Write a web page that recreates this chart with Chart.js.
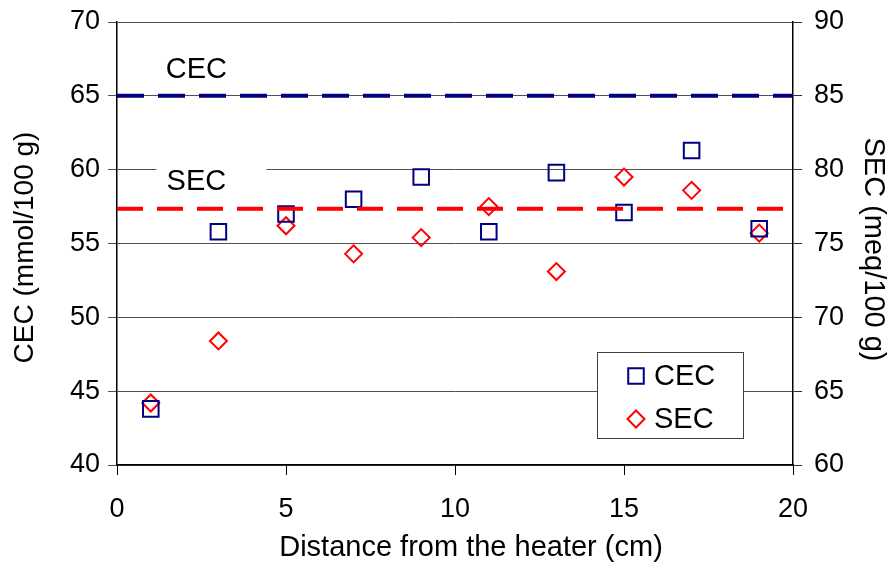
<!DOCTYPE html>
<html>
<head>
<meta charset="utf-8">
<title>CEC and SEC vs distance from the heater</title>
<script src="https://cdn.jsdelivr.net/npm/chart.js"></script>
<style>
  html, body { margin: 0; padding: 0; background: #fff; }
  #wrap { width: 895px; height: 567px; }
</style>
</head>
<body>
<div id="wrap"><canvas id="cecChart" width="895" height="567"></canvas></div>
<script>
// data
const distances = [1, 3, 5, 7, 9, 11, 13, 15, 17, 19];
const cecValues = [43.8, 55.8, 57.0, 58.0, 59.5, 55.8, 59.8, 57.1, 61.3, 56.0];
const secValues = [64.2, 68.4, 76.2, 74.3, 75.4, 77.5, 73.1, 79.5, 78.6, 75.7];
const cecLevel = 65;      // dashed line, left axis
const secLevel = 77.35;   // dashed line, right axis
const xTicks = [0, 5, 10, 15, 20];
const cecTicks = [40, 45, 50, 55, 60, 65, 70];
const secTicks = [60, 65, 70, 75, 80, 85, 90];
const seriesNames = ["CEC", "SEC"];
const xTitle = "Distance from the heater (cm)";
const cecTitle = "CEC (mmol/100 g)";
const secTitle = "SEC (meq/100 g)";

const FONT = '"Liberation Sans", Arial, sans-serif';
const NAVY = "#000080";
const RED = "#ff0000";

Chart.defaults.color = "#000";
Chart.defaults.font.family = FONT;

function setTicks(list) {
  return scale => { scale.ticks = list.map(v => ({ value: v })); };
}

// captions over the dashed lines, axis titles and the boxed legend
const overlay = {
  id: "overlay",
  beforeDatasetsDraw(chart) {
    const { ctx, scales } = chart;
    const cx = scales.x.getPixelForValue(2.35);
    ctx.save();
    ctx.font = "29px " + FONT;
    ctx.textAlign = "center";
    ctx.textBaseline = "middle";
    const captions = [
      [seriesNames[0], scales.y.getPixelForValue(cecLevel) - 27],
      [seriesNames[1], scales.y2.getPixelForValue(secLevel) - 28]
    ];
    captions.forEach(([txt, cy]) => {
      ctx.fillStyle = "#fff";
      ctx.fillRect(cx - 40, cy - 14, 110, 28);
      ctx.fillStyle = "#000";
      ctx.fillText(txt, cx, cy + 1);
    });
    ctx.restore();
  },
  afterDraw(chart) {
    const { ctx, chartArea } = chart;
    const midY = (chartArea.top + chartArea.bottom) / 2;
    ctx.save();
    ctx.fillStyle = "#000";
    ctx.textAlign = "center";
    ctx.textBaseline = "middle";
    // axis titles
    ctx.font = "29px " + FONT;
    ctx.fillText(xTitle, (chartArea.left + chartArea.right) / 2 + 16, 548);
    ctx.save();
    ctx.translate(25, midY + 4);
    ctx.rotate(-Math.PI / 2);
    ctx.font = "28px " + FONT;
    ctx.fillText(cecTitle, 0, 0);
    ctx.restore();
    ctx.save();
    ctx.translate(873, midY + 6);
    ctx.rotate(Math.PI / 2);
    ctx.font = "29px " + FONT;
    ctx.fillText(secTitle, 0, 0);
    ctx.restore();

    // legend
    const left = chartArea.right - 196, top = chartArea.top + 330;
    const w = 146, h = 86;
    ctx.fillStyle = "#fff";
    ctx.fillRect(left, top, w, h);
    ctx.strokeStyle = "#404040";
    ctx.lineWidth = 1;
    ctx.strokeRect(left + 0.5, top + 0.5, w, h);
    ctx.font = "29px " + FONT;
    ctx.textAlign = "left";
    [0, 1].forEach(i => {
      const ds = chart.data.datasets[i];
      const my = top + 24 + i * 43;
      ctx.strokeStyle = ds.borderColor;
      ctx.fillStyle = "rgba(0,0,0,0)";
      ctx.lineWidth = ds.borderWidth;
      Chart.helpers.drawPoint(ctx, {
        pointStyle: ds.pointStyle, radius: ds.pointRadius,
        rotation: 0, borderWidth: ds.borderWidth
      }, left + 39, my);
      ctx.fillStyle = "#000";
      ctx.fillText(ds.label, left + 57, my + 1);
    });
    ctx.restore();
  }
};

new Chart(document.getElementById("cecChart"), {
  type: "scatter",
  data: {
    datasets: [
      {
        label: seriesNames[0],
        data: distances.map((x, i) => ({ x, y: cecValues[i] })),
        yAxisID: "y",
        pointStyle: "rect",
        pointRadius: 11,
        borderWidth: 2,
        borderColor: NAVY,
        backgroundColor: "rgba(0,0,0,0)",
        order: 1
      },
      {
        label: seriesNames[1],
        data: distances.map((x, i) => ({ x, y: secValues[i] })),
        yAxisID: "y2",
        pointStyle: "rectRot",
        pointRadius: 8.5,
        borderWidth: 2,
        borderColor: RED,
        backgroundColor: "rgba(0,0,0,0)",
        order: 2
      },
      {
        label: "CEC level",
        data: [{ x: 0, y: cecLevel }, { x: 20, y: cecLevel }],
        yAxisID: "y",
        showLine: true,
        pointRadius: 0,
        borderColor: NAVY,
        borderWidth: 4,
        borderDash: [27, 14],
        order: 3
      },
      {
        label: "SEC level",
        data: [{ x: 0, y: secLevel }, { x: 20, y: secLevel }],
        yAxisID: "y2",
        showLine: true,
        pointRadius: 0,
        borderColor: RED,
        borderWidth: 4,
        borderDash: [26, 14],
        order: 0
      }
    ]
  },
  options: {
    responsive: false,
    animation: false,
    events: [],
    layout: { padding: { top: 22, left: 0, right: 0, bottom: 0 } },
    plugins: {
      legend: { display: false },
      tooltip: { enabled: false }
    },
    scales: {
      x: {
        type: "linear",
        min: 0,
        max: 20,
        afterBuildTicks: setTicks(xTicks),
        afterFit: s => { s.height = 102; },
        border: { display: true, color: "#000", width: 1.5 },
        grid: { drawOnChartArea: false, drawTicks: true, tickLength: 10, color: "#000" },
        ticks: { font: { size: 27, lineHeight: 1 }, padding: 21, maxRotation: 0 }
      },
      y: {
        position: "left",
        min: 40,
        max: 70,
        afterBuildTicks: setTicks(cecTicks),
        afterFit: s => { s.width = 117; },
        border: { display: true, color: "#000", width: 1.5 },
        grid: { color: "#505050", lineWidth: 1, tickLength: 9 },
        ticks: { font: { size: 27, lineHeight: 0.7 }, padding: 8 }
      },
      y2: {
        position: "right",
        min: 60,
        max: 90,
        afterBuildTicks: setTicks(secTicks),
        afterFit: s => { s.width = 102; },
        border: { display: true, color: "#000", width: 1.5 },
        grid: { drawOnChartArea: false, color: "#303030", tickLength: 9 },
        ticks: { font: { size: 27, lineHeight: 0.7 }, padding: 12 }
      }
    }
  },
  plugins: [overlay]
});
</script>
</body>
</html>
